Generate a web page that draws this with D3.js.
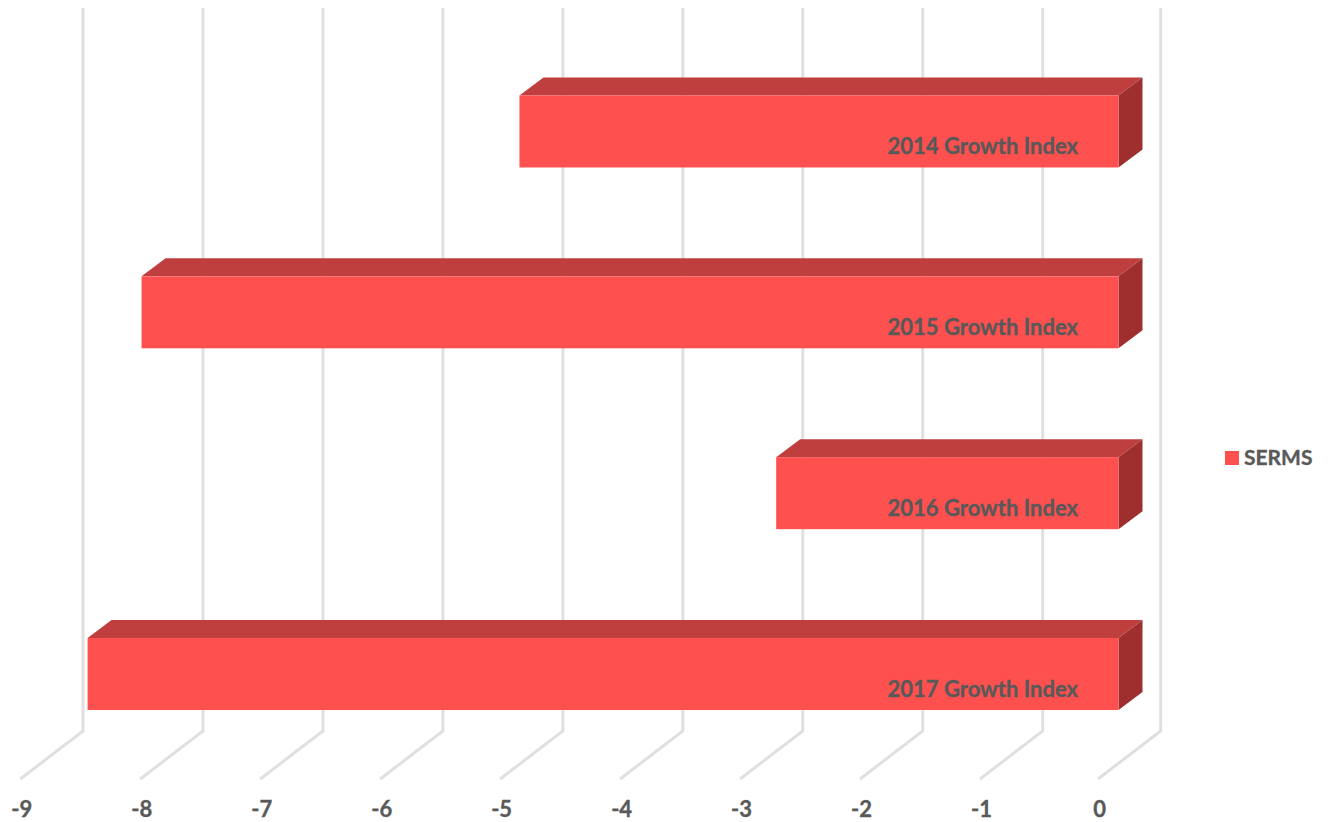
<!DOCTYPE html>
<html>
<head>
<meta charset="utf-8">
<script src="https://cdn.jsdelivr.net/npm/d3@7"></script>
<style>
html, body { margin: 0; padding: 0; background: #fff; }
svg { display: block; }
text { font-family: Lato, "Open Sans", sans-serif; font-weight: 700; fill: #595959; stroke: #595959; stroke-width: 0.35px; }
</style>
</head>
<body>
<div class="container"></div>
<script>
// Data
const categories = ["2014 Growth Index", "2015 Growth Index", "2016 Growth Index", "2017 Growth Index"];
const values = [-5.01, -8.16, -2.87, -8.61];
const tickValues = [-9, -8, -7, -6, -5, -4, -3, -2, -1, 0];
const seriesName = "SERMS";

// Define the dimensions
const w = 1328;
const h = 822;

// 3D offsets of the chart box
const wallDx = 62.7, wallDy = 48;
const barPlaneDx = 20.5;
const barDx = 24, barDy = 18;
const wallTop = 8, floorY = 779;

const colors = { front: "#ff5050", top: "#bf3e3e", side: "#9f2f2f", grid: "#e0e0e0" };

// Create scales
// last unit is a bit narrower than the others in the picture
const xScale = d3.scaleLinear().domain([-9, -1, 0]).range([20.3, 980, 1098]);
const yScale = d3.scaleBand().domain(categories).range([95.5, 710]).paddingInner(0.602);

const svg = d3.select(".container")
  .append("svg")
  .attr("width", w)
  .attr("height", h);

// Back wall and floor gridlines
const grid = svg.append("g")
  .attr("fill", "none")
  .attr("stroke", colors.grid)
  .attr("stroke-width", 3);

grid.selectAll("path")
  .data(tickValues)
  .enter()
  .append("path")
  .attr("d", d => {
    const x = xScale(d);
    return `M${x},${floorY}L${x + wallDx},${floorY - wallDy}L${x + wallDx},${wallTop}`;
  });

// Bars: x position on the bar plane
const bx = v => xScale(v) + barPlaneDx;

const bars = svg.append("g")
  .selectAll("g")
  .data(categories.map((c, i) => ({ c, v: values[i] })))
  .enter()
  .append("g");

bars.append("path")
  .attr("fill", colors.top)
  .attr("d", d => {
    const y = yScale(d.c);
    return `M${bx(d.v)},${y}L${bx(d.v) + barDx},${y - barDy}L${bx(0) + barDx},${y - barDy}L${bx(0)},${y}Z`;
  });

bars.append("path")
  .attr("fill", colors.side)
  .attr("d", d => {
    const y = yScale(d.c);
    const b = yScale.bandwidth();
    return `M${bx(0)},${y}L${bx(0) + barDx},${y - barDy}L${bx(0) + barDx},${y + b - barDy}L${bx(0)},${y + b}Z`;
  });

bars.append("rect")
  .attr("fill", colors.front)
  .attr("x", d => bx(d.v))
  .attr("y", d => yScale(d.c))
  .attr("width", d => bx(0) - bx(d.v))
  .attr("height", yScale.bandwidth());

// Category labels sit inside the bars
bars.append("text")
  .attr("x", 1078)
  .attr("y", d => yScale(d.c) + 58.5)
  .style("font-size", "22px")
  .style("text-anchor", "end")
  .text(d => d.c);

// Value axis
const xAxis = d3.axisBottom(xScale).tickValues(tickValues).tickSize(0).tickPadding(0).tickFormat(d => String(d));
const axisG = svg.append("g")
  .attr("id", "x-axis")
  .attr("transform", "translate(1,801)")
  .call(xAxis);
axisG.select(".domain").remove();
axisG.selectAll("text")
  .style("font-size", "22px")
  .style("font-family", "Lato")
  .style("fill", "#595959");

// Add legend
const legend = svg.append("g").attr("id", "legend");
legend.append("rect")
  .attr("x", 1225)
  .attr("y", 451)
  .attr("width", 14)
  .attr("height", 14)
  .attr("fill", colors.front);
legend.append("text")
  .attr("x", 1244)
  .attr("y", 465)
  .style("font-size", "21px")
  .text(seriesName);
</script>
</body>
</html>
